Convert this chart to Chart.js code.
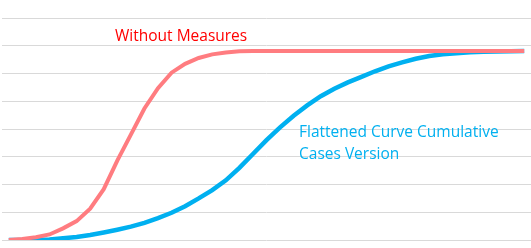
<!DOCTYPE html>
<html>
<head>
<meta charset="utf-8">
<script src="https://cdn.jsdelivr.net/npm/chart.js@4"></script>
<style>
    html, body { margin: 0; padding: 0; background: #fff; }
    #wrap { width: 531px; height: 248px; }
</style>
</head>
<body>
<div id="wrap"><canvas id="curveChart" width="531" height="248"></canvas></div>
<script>
// days since start (39 categories)
const days = Array.from({ length: 39 }, (_, i) => String(i + 1));

const withoutMeasures = [
    0, 0.04, 0.1, 0.2, 0.42, 0.68, 1.13, 1.83, 2.86, 3.8,
    4.74, 5.47, 6.03, 6.35, 6.56, 6.69, 6.76, 6.8, 6.81, 6.81,
    6.81, 6.81, 6.81, 6.81, 6.81, 6.81, 6.81, 6.81, 6.81, 6.81,
    6.81, 6.81, 6.81, 6.81, 6.81, 6.81, 6.81, 6.81, 6.81
];

const flattenedCurve = [
    0, 0, 0.01, 0.02, 0.06, 0.11, 0.18, 0.27, 0.37, 0.48,
    0.62, 0.79, 0.98, 1.22, 1.5, 1.8, 2.15, 2.6, 3.1, 3.6,
    4.06, 4.48, 4.85, 5.18, 5.45, 5.68, 5.88, 6.08, 6.26, 6.4,
    6.53, 6.63, 6.69, 6.73, 6.77, 6.78, 6.79, 6.8, 6.81
];

const yTicks = [0, 8, 1]; // min, max, step

const labelFont = '15.5px "Open Sans", "Noto Sans", sans-serif';

// text labels written straight onto the plot
const curveLabels = {
    id: 'curveLabels',
    afterDatasetsDraw(chart) {
        const ctx = chart.ctx;
        const area = chart.chartArea;
        ctx.save();
        ctx.font = labelFont;
        ctx.textBaseline = 'alphabetic';
        ctx.fillStyle = '#FF0000';
        ctx.fillText('Without Measures', area.left + 113, 41);
        ctx.fillStyle = '#00B0F0';
        ctx.fillText('Flattened Curve Cumulative', area.left + 297, 137);
        ctx.fillText('Cases Version', area.left + 297, 159);
        ctx.restore();
    }
};

new Chart(document.getElementById('curveChart').getContext('2d'), {
    type: 'line',
    data: {
        labels: days,
        datasets: [
            {
                label: 'Without Measures',
                data: withoutMeasures,
                borderColor: '#FF7C80',
                borderWidth: 4,
                pointRadius: 0,
                tension: 0,
                fill: false
            },
            {
                label: 'Flattened Curve Cumulative Cases Version',
                data: flattenedCurve,
                borderColor: '#00B0F0',
                borderWidth: 4.5,
                pointRadius: 0,
                tension: 0,
                fill: false
            }
        ]
    },
    options: {
        responsive: false,
        animation: false,
        layout: { padding: { left: 2, right: 0, top: 18, bottom: 8 } },
        plugins: {
            legend: { display: false },
            tooltip: { enabled: false }
        },
        scales: {
            x: {
                offset: true,
                grid: { display: false, drawTicks: false },
                border: { display: false },
                ticks: { display: false }
            },
            y: {
                min: yTicks[0],
                max: yTicks[1],
                grid: { color: '#D9D9D9', lineWidth: 1, drawTicks: false },
                border: { display: false },
                ticks: { display: false, stepSize: yTicks[2] }
            }
        }
    },
    plugins: [curveLabels]
});
</script>
</body>
</html>
